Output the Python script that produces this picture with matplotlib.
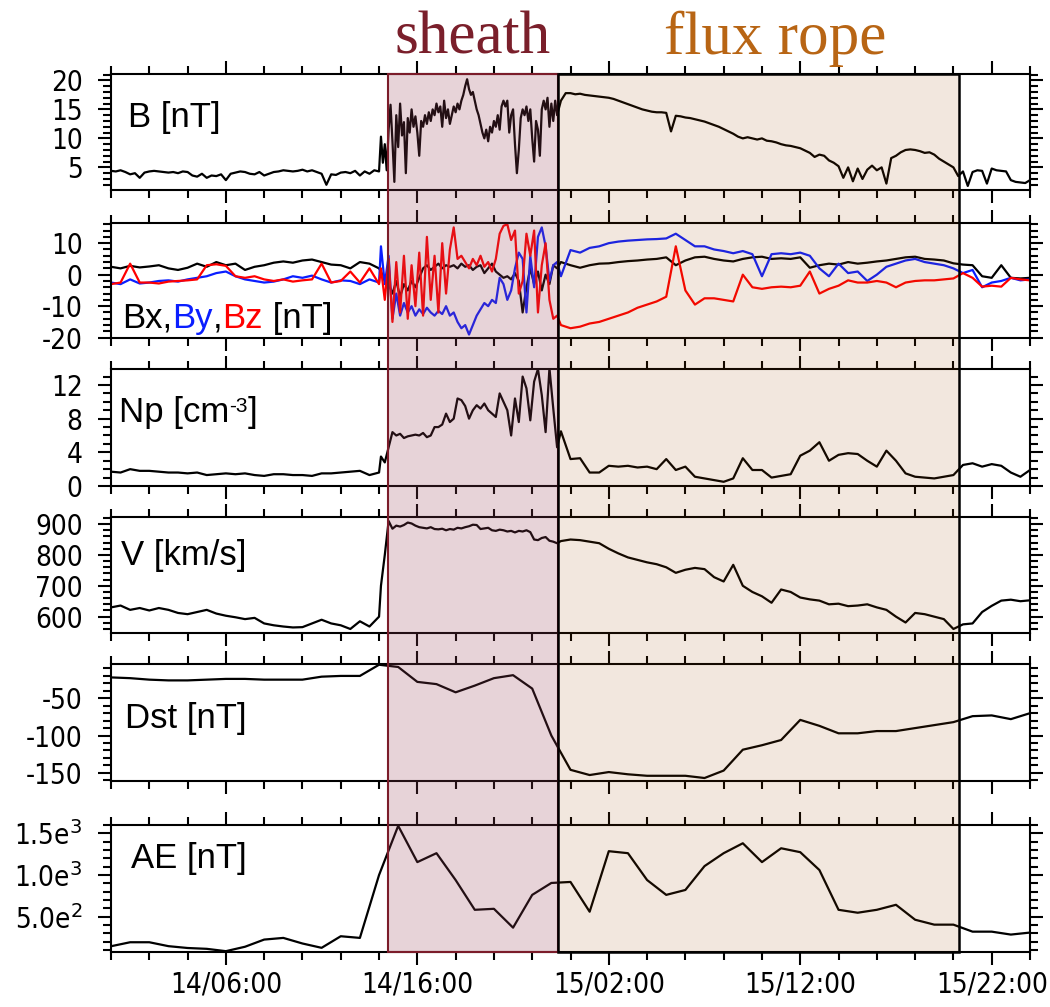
import os
import numpy as np
import matplotlib
matplotlib.use('Agg')
import matplotlib.pyplot as plt
from matplotlib import font_manager
from matplotlib.font_manager import FontProperties
from matplotlib.patches import Rectangle
from matplotlib.ticker import FixedLocator, MultipleLocator, NullFormatter
import matplotlib.transforms as mtransforms

plt.rcParams['axes.unicode_minus'] = False

# time axis: hours since 14/00:00
xtick_hours = [6, 16, 26, 36, 46]
xtick_labels = ['14/06:00', '14/16:00', '15/02:00', '15/12:00', '15/22:00']
sheath_start, sheath_end = 14.47, 23.35
rope_start, rope_end = 23.35, 44.3

# sampling grids of the solar wind data (quiet / sheath / flux rope + after)
t_pre_B = np.arange(0, 14.01, 0.25)
t_sh_B = np.arange(141, 234) / 10
t_post_B = np.arange(23.5, 48.01, 0.25)
t_pre = np.arange(0, 14.01, 0.5)
t_sh = np.arange(141, 234, 2) / 10
t_post = np.arange(23.5, 48.01, 0.5)
t_hour = np.arange(49)

# |B| [nT]
B_pre = [4.4, 4.3, 4.5, 4.2, 3.8, 4.0, 3.2, 4.1, 4.3, 4.4, 4.3, 4.2, 4.1, 4.2, 4.0, 4.3,
         4.2, 3.6, 3.4, 3.9, 3.2, 3.6, 3.5, 3.8, 2.8, 3.9, 4.1, 4.3, 4.2, 3.9, 3.8, 4.2,
         3.6, 3.9, 4.2, 4.3, 4.5, 4.4, 4.3, 4.4, 4.6, 4.3, 4.5, 4.2, 3.9, 2.0, 3.8, 3.7,
         4.1, 4.2, 4.0, 4.4, 3.6, 4.3, 3.9, 4.5, 4.3]
B_sh = [10.3, 5.8, 9.0, 4.5, 11.5, 15.8, 9.5, 2.5, 14.0,
        8.5, 16.0, 10.5, 12.8, 4.0, 13.5, 11.0, 15.0, 12.0, 13.8,
        11.0, 7.0, 13.0, 12.0, 14.0, 12.5, 14.5, 13.0, 15.0, 14.0,
        16.0, 14.5, 15.5, 12.0, 16.5, 13.5, 15.0, 12.5, 14.0, 15.5,
        14.5, 16.0, 15.0, 16.5, 17.5, 19.0, 20.2, 18.5, 17.5, 18.0,
        16.5, 15.0, 14.0, 12.5, 11.0, 10.0, 11.5, 9.5, 12.0, 11.0,
        13.0, 12.0, 14.0, 11.5, 15.5, 16.5, 15.5, 16.5, 11.0, 14.0,
        15.0, 9.0, 4.0, 8.0, 13.5, 15.0, 14.0, 15.5, 13.0, 15.0,
        10.0, 6.0, 13.0, 11.5, 7.0, 15.0, 16.5, 15.0, 17.0, 12.0,
        16.0, 13.0, 16.5, 14.0]
B_post = [16.5, 17.8,
          17.8, 17.6, 17.7, 17.5, 17.4, 17.3, 17.2, 17.1, 17.0, 16.8, 16.5, 16.2,
          15.9, 15.6, 15.3, 15.0, 14.8, 14.6, 14.5, 14.5, 14.4, 11.2, 13.9, 13.8,
          13.6, 13.5, 13.3, 13.1, 12.9, 12.6, 12.3, 12.0, 11.6, 11.2, 10.8, 10.3,
          10.0, 10.2, 10.0, 9.8, 10.0, 9.6, 9.5, 9.3, 9.0, 8.8, 8.7, 8.5,
          8.3, 7.9, 7.5, 6.8, 7.2, 7.0, 6.2, 5.8, 5.2, 3.2, 5.0, 2.6,
          4.8, 3.0, 4.6, 5.3, 4.5, 5.0, 2.2, 6.6, 7.0, 7.6, 8.0, 8.1,
          8.0, 7.8, 7.5, 7.6, 7.2, 6.5, 6.0, 5.5, 5.0, 3.5, 4.3, 1.8,
          4.2, 4.5, 4.4, 2.2, 4.8, 4.5, 4.4, 4.3, 2.8, 2.5, 2.4, 2.3,
          2.8]

# Bx, By, Bz [nT]
Bx_pre = [2.5, 2.0, 2.8, 2.3, 2.6, 3.0, 2.0, 1.5, 2.2, 3.5, 2.5, 4.0, 3.0, 3.5, 1.5,
          2.5, 3.0, 3.8, 4.2, 3.8, 4.5, 4.8, 4.0, 3.2, 3.0, 2.0, 4.0, 3.5, 2.0]
By_pre = [-2.5, -3.0, -1.5, -2.8, -2.5, -2.0, -1.8, -2.2, -1.5, -1.0, -0.5, 0.5, 1.0, -0.5, -1.5,
          -2.0, -2.5, -2.2, -1.5, -0.5, -1.0, -0.3, -1.5, -2.5, -1.8, -2.0, -3.0, -1.5, -2.5]
Bz_pre = [-3.0, -2.5, 3.5, -2.5, -2.5, -2.8, -2.2, -2.0, -1.8, -1.5, 3.0, 3.3, 2.8, -0.5, -1.0,
          -0.5, -1.5, -2.0, -1.5, -2.2, -1.8, -1.5, 3.5, -2.5, -2.0, 1.0, -2.5, 2.0, -3.0]
Bx_sh = [1.0, -2.0, -3.0, -6.0, -2.0, -7.0, -3.0, -5.0, -2.0, -4.0,
         -1.0, 2.0, 3.0, 1.5, 2.5, 3.5, 2.0, 3.0, 2.5, 3.0,
         2.0, 3.5, 2.5, 3.0, 1.5, 2.5, 3.0, 0.5, 2.0, 3.5,
         1.0, 0.0, -1.0, -0.5, -1.5, 0.5, -2.0, -12.0, -4.0, 2.0,
         -3.0, 1.0, -5.0, 0.0, -3.0, 3.0, 2.0]
By_sh = [9.0, -3.0, 6.0, -14.0, -6.0, -13.0, -9.0, -12.0, -10.0, -13.0,
         -11.0, -12.5, -10.5, -12.0, -13.0, -11.5, -12.5, -10.0, -13.0, -12.0,
         -15.0, -17.0, -16.0, -19.0, -16.0, -13.0, -11.0, -9.0, -10.0, -8.0,
         -9.0, -1.0, -3.0, -8.0, -5.0, 2.0, 7.0, 5.0, -12.0, 6.0,
         -4.0, 12.0, 15.0, 9.0, -2.0, 3.0, 4.0]
Bz_sh = [2.0, -8.0, 5.0, -15.0, 4.0, -12.0, 6.0, -14.0, 3.0, -10.0,
         7.0, -13.0, 12.0, -8.0, 6.0, -12.0, 10.0, -6.0, 8.0, 15.0,
         5.0, 6.0, 4.0, 2.0, 5.0, 3.0, 6.0, 2.5, 4.0, 1.0,
         5.0, 13.0, 15.5, 16.0, 11.0, 14.0, -6.0, -2.0, 13.0, 6.0,
         14.0, -12.0, 3.0, 10.0, -8.0, -14.0, -13.0]
Bx_post = [4.0, 3.0, 2.2, 3.0, 3.5, 3.6, 4.0, 4.3, 4.5, 4.8,
           5.0, 5.5, 3.0, 4.5, 5.5, 5.7, 5.0, 4.5, 4.2, 5.0,
           5.5, 5.7, 5.0, 5.2, 5.0, 5.5, 2.2, 3.0, 3.5, 3.2,
           4.0, 3.5, 3.8, 4.2, 4.5, 5.0, 5.5, 5.7, 5.0, 4.8,
           4.5, 3.6, 3.2, 3.0, -0.5, -1.0, 3.0, -1.0, -1.2, -1.0]
By_post = [-0.5, 7.8, 7.0, 8.5, 9.0, 10.0, 10.5, 10.8, 11.0, 11.2,
           11.3, 11.5, 13.0, 11.0, 9.0, 9.0, 8.0, 7.5, 6.8, 7.5,
           6.5, -0.5, 6.5, 6.8, 6.5, 7.0, 6.0, 2.0, -0.5, 3.5,
           0.5, 1.0, -2.0, 0.0, 2.5, 3.5, 4.5, 5.0, 4.0, 3.5,
           3.0, 2.0, 0.5, 1.5, -4.0, -2.5, -2.0, -1.0, -1.8, -1.5]
Bz_post = [-16.0, -17.0, -16.5, -15.5, -15.0, -14.0, -13.0, -12.0, -10.5, -9.5,
           -8.5, -7.0, 9.0, -5.0, -9.5, -7.5, -7.5, -8.0, -8.5, 0.0,
           -4.0, -4.5, -4.0, -3.8, -4.0, -3.5, 1.0, -6.0, -4.5, -3.5,
           -1.8, -2.5, -2.5, -2.0, -2.5, -4.0, -2.5, -2.0, -1.8, -1.8,
           -1.5, -1.2, 0.5, -1.0, -3.8, -3.5, -3.8, -1.0, -1.5, -1.8]

# proton density [cm^-3]
Np_pre = [1.7, 1.6, 2.0, 1.8, 1.8, 1.7, 1.6, 1.6, 1.5, 1.6, 1.3, 1.4, 1.5, 1.4, 1.5,
          1.3, 1.2, 1.4, 1.4, 1.3, 1.3, 1.2, 1.5, 1.5, 1.6, 1.7, 1.8, 1.3, 1.6]
Np_sh = [3.5, 2.8, 4.6, 6.4, 6.0, 6.2, 5.7, 5.9, 6.0, 6.1,
         6.0, 6.3, 5.8, 6.0, 7.0, 7.0, 7.3, 8.6, 7.6, 8.0,
         10.4, 10.2, 9.5, 8.0, 9.0, 9.6, 9.2, 9.8, 9.0, 8.6,
         8.2, 11.0, 10.0, 9.0, 6.0, 10.4, 7.6, 13.0, 11.6, 7.8,
         12.4, 13.9, 10.8, 6.4, 14.0, 9.2, 4.6]
Np_post = [6.5, 3.2, 3.3, 1.6, 1.6, 2.4, 2.3, 2.4, 2.2, 2.3,
           2.0, 3.2, 1.9, 2.3, 1.1, 0.9, 0.7, 0.5, 0.9, 3.3,
           1.9, 1.9, 1.0, 1.2, 1.4, 3.6, 4.2, 5.2, 3.0, 3.7,
           3.9, 3.8, 3.0, 2.3, 4.2, 3.0, 1.5, 1.1, 1.0, 0.9,
           1.1, 1.3, 2.5, 2.7, 2.3, 2.6, 2.4, 1.6, 1.1, 1.9]

# solar wind speed [km/s]
V_pre = [630, 636, 622, 628, 620, 628, 622, 612, 608, 615, 622, 610, 603, 598, 592,
         596, 578, 572, 568, 565, 566, 578, 590, 578, 572, 560, 585, 568, 600]
V_sh = [700, 800, 910, 885, 895, 892, 897, 905, 902, 895,
        890, 888, 886, 890, 884, 883, 885, 880, 884, 882,
        888, 886, 890, 893, 898, 897, 884, 886, 888, 880,
        878, 882, 880, 876, 878, 873, 878, 876, 880, 874,
        850, 848, 855, 858, 846, 843, 838]
V_post = [845, 850, 848, 843, 838, 820, 805, 792, 784, 776,
          770, 760, 742, 752, 758, 754, 728, 714, 768, 700,
          680, 666, 645, 688, 680, 662, 656, 652, 640, 642,
          634, 636, 640, 630, 622, 600, 581, 612, 608, 600,
          592, 560, 575, 578, 615, 635, 652, 655, 650, 653]

# hourly geomagnetic indices [nT]
Dst = [-22, -23, -25, -26, -26, -25, -24, -24, -25, -25,
       -25, -21, -20, -20, -5, -8, -28, -31, -42, -33,
       -23, -19, -37, -100, -146, -153, -149, -152, -154, -154,
       -154, -157, -147, -119, -113, -106, -79, -87, -97, -97,
       -94, -94, -90, -86, -82, -74, -73, -78, -70]
AE = [146, 194, 194, 147, 125, 115, 87, 140, 226, 246,
      179, 127, 266, 246, 1000, 1590, 1155, 1262, 940, 583,
      595, 369, 762, 905, 917, 560, 1286, 1262, 940, 762,
      821, 1107, 1262, 1381, 1155, 1321, 1274, 1060, 583, 548,
      583, 643, 464, 405, 405, 321, 321, 286, 310]

# narrow font for the tick labels if the condensed DejaVu face is around
cond = [f.fname for f in font_manager.fontManager.ttflist
        if os.path.basename(f.fname).lower() == 'dejavusanscondensed.ttf']
if cond:
    tick_fp = FontProperties(fname=cond[0], size=20)
else:
    tick_fp = FontProperties(family='DejaVu Sans', size=17.5)

W, H = 1050, 1007
fig = plt.figure(figsize=(W / 100, H / 100), dpi=100)

# panel boxes in pixels: (top, bottom)
boxes = [(74, 190), (223, 338), (369, 486), (517, 633), (664, 781), (825, 952)]
left_px, right_px = 111, 1030
axes = []
for top, bot in boxes:
    ax = fig.add_axes([left_px / W, 1 - bot / H, (right_px - left_px) / W, (bot - top) / H])
    axes.append(ax)

lab_font = dict(fontsize=25, family='Liberation Sans')


def setup(ax, ylim, major, minor):
    ax.set_xlim(0, 48)
    ax.set_ylim(*ylim)
    ax.xaxis.set_major_locator(FixedLocator(xtick_hours))
    ax.xaxis.set_minor_locator(MultipleLocator(2))
    ax.xaxis.set_major_formatter(NullFormatter())
    ax.yaxis.set_major_locator(FixedLocator(major))
    ax.yaxis.set_minor_locator(MultipleLocator(minor))
    ax.tick_params(which='both', direction='out', top=True, right=True, width=1.5, pad=11)
    ax.tick_params(which='major', length=9.5)
    ax.tick_params(which='minor', length=5.5)
    for s in ax.spines.values():
        s.set_linewidth(1.5)


lw = 1.6
t_B = np.concatenate([t_pre_B, t_sh_B, t_post_B])
t_all = np.concatenate([t_pre, t_sh, t_post])

ax = axes[0]
ax.plot(t_B, np.concatenate([B_pre, B_sh, B_post]), color='black', lw=lw)
setup(ax, (1.1, 21.1), [5, 10, 15, 20], 1)
ax.text(0.0185, 0.543, 'B [nT]', transform=ax.transAxes, va='baseline', **lab_font)

ax = axes[1]
ax.plot(t_all, np.concatenate([Bx_pre, Bx_sh, Bx_post]), color='black', lw=lw)
ax.plot(t_all, np.concatenate([By_pre, By_sh, By_post]), color='#0a1eff', lw=lw)
ax.plot(t_all, np.concatenate([Bz_pre, Bz_sh, Bz_post]), color='#ff0000', lw=lw)
setup(ax, (-20.1, 16.4), [-20, -10, 0, 10], 2)
t1 = ax.text(0.012, 0.087, 'Bx,', transform=ax.transAxes, va='baseline', color='black', **lab_font)
t2 = ax.annotate('By', xy=(1, 0), xycoords=t1, va='bottom', color='#0a1eff', **lab_font)
t3 = ax.annotate(',', xy=(1, 0), xycoords=t2, va='bottom', color='black', **lab_font)
t4 = ax.annotate('Bz', xy=(1, 0), xycoords=t3, va='bottom', color='#ff0000', **lab_font)
ax.annotate(' [nT]', xy=(1, 0), xycoords=t4, va='bottom', color='black', **lab_font)

ax = axes[2]
ax.plot(t_all, np.concatenate([Np_pre, Np_sh, Np_post]), color='black', lw=lw)
setup(ax, (0, 13.9), [0, 4, 8, 12], 1)
n1 = ax.text(0.0087, 0.547, 'Np [cm', transform=ax.transAxes, va='baseline', **lab_font)
n2 = ax.annotate('-3', xy=(1, 0.98), xycoords=n1, va='top', fontsize=15, family='Liberation Sans')
ax.annotate(']', xy=(1, 0), xycoords=(n2, n1), va='bottom', **lab_font)

ax = axes[3]
ax.plot(t_all, np.concatenate([V_pre, V_sh, V_post]), color='black', lw=lw)
setup(ax, (547, 923), [600, 700, 800, 900], 20)
ax.text(0.011, 0.586, 'V [km/s]', transform=ax.transAxes, va='baseline', **lab_font)

ax = axes[4]
ax.plot(t_hour, Dst, color='black', lw=lw)
setup(ax, (-161, -4), [-150, -100, -50], 10)
ax.text(0.015, 0.453, 'Dst [nT]', transform=ax.transAxes, va='baseline', **lab_font)

ax = axes[5]
ax.plot(t_hour, AE, color='black', lw=lw)
setup(ax, (77, 1600), [500, 1000, 1500], 100)
ax.set_yticklabels(['5.0e$^2$', '1.0e$^3$', '1.5e$^3$'])
ax.set_xticks(xtick_hours)
ax.set_xticklabels(xtick_labels)
ax.tick_params(axis='x', pad=4)
ax.text(0.022, 0.661, 'AE [nT]', transform=ax.transAxes, va='baseline', **lab_font)

for ax in axes:
    for lab in ax.get_yticklabels() + ax.get_xticklabels():
        lab.set_fontproperties(tick_fp)

# event intervals, overlaid across all panels
y0 = axes[5].get_position().y0
y1 = axes[0].get_position().y1
trans = mtransforms.blended_transform_factory(axes[5].transData, fig.transFigure)
fig.add_artist(Rectangle((sheath_start, y0), sheath_end - sheath_start, y1 - y0, transform=trans,
                         facecolor='#984157', alpha=0.23, edgecolor='none', zorder=5))
fig.add_artist(Rectangle((rope_start, y0), rope_end - rope_start, y1 - y0, transform=trans,
                         facecolor='#a24d00', alpha=0.13, edgecolor='none', zorder=5))
fig.add_artist(Rectangle((sheath_start, y0), sheath_end - sheath_start, y1 - y0, transform=trans,
                         fill=False, edgecolor='#7b1c2a', lw=1.5, zorder=6))
fig.add_artist(Rectangle((rope_start, y0), rope_end - rope_start, y1 - y0, transform=trans,
                         fill=False, edgecolor='black', lw=1.8, zorder=7))

fig.text((sheath_start + sheath_end) / 2, 1 - 54 / H, 'sheath', transform=trans, ha='center',
         va='baseline', fontsize=44, family='Liberation Serif', color='#7a1f2b')
fig.text(34.7, 1 - 54 / H, 'flux rope', transform=trans, ha='center',
         va='baseline', fontsize=44, family='Liberation Serif', color='#b86514')

fig.savefig('out.png', dpi=100)
